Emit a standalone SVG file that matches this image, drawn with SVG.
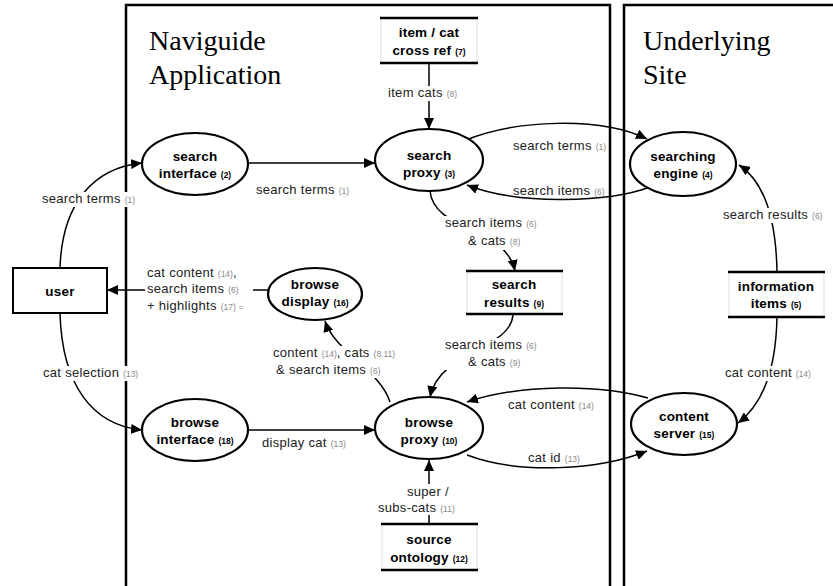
<svg xmlns="http://www.w3.org/2000/svg" width="833" height="586" viewBox="0 0 833 586">
<defs>
<marker id="ah" markerUnits="userSpaceOnUse" markerWidth="12" markerHeight="10" refX="11" refY="5" orient="auto"><path d="M0,0 L11,5 L0,10 Z" fill="#000"/></marker>
<style>
.panel{fill:none;stroke:#000;stroke-width:2.5}
.ell{fill:#fff;stroke:#000;stroke-width:2.2}
.store{fill:#fff;stroke:none}
.side{stroke:#ddd;stroke-width:1}
.bar{stroke:#000;stroke-width:2.5}
.nt{font-family:"Liberation Sans",Arial,sans-serif;font-weight:bold;font-size:13.5px;letter-spacing:0.2px;fill:#000;text-anchor:middle}
.nn{font-size:8.5px;letter-spacing:0}
.title{font-family:"Liberation Serif","Times New Roman",serif;font-size:28px;fill:#000}
.conn{fill:none;stroke:#000;stroke-width:1.5}
.lb{font-family:"Liberation Sans",Arial,sans-serif;font-size:13px;letter-spacing:0.3px;fill:#222}
.ln{font-size:8.5px;letter-spacing:0;fill:#888}
.bg{fill:#fff}
</style>
</defs>
<rect width="833" height="586" fill="#fff"/>
<g id="panels">
<path class="panel" d="M126,586 V5 H610 V586"/>
<path class="panel" d="M624,586 V5 H833"/>
<text class="title" x="149" y="50">Naviguide</text>
<text class="title" x="149" y="84">Application</text>
<text class="title" x="643" y="50">Underlying</text>
<text class="title" x="643" y="84">Site</text>
</g>
<g id="connectors">
<path class="conn" d="M60,268 C62,205 92,168 142,163" marker-end="url(#ah)"/>
<path class="conn" d="M60,313 C62,385 92,425 142,430" marker-end="url(#ah)"/>
<path class="conn" d="M248,163 L375,163" marker-end="url(#ah)"/>
<path class="conn" d="M429,63 L429,129" marker-end="url(#ah)"/>
<path class="conn" d="M466,140 C515,120 600,116 647,139" marker-end="url(#ah)"/>
<path class="conn" d="M650,187 C610,202 520,206 467,185" marker-end="url(#ah)"/>
<path class="conn" d="M430,191 C434,232 505,225 515,271" marker-end="url(#ah)"/>
<path class="conn" d="M513,315 C510,350 440,350 430,397" marker-end="url(#ah)"/>
<path class="conn" d="M390,402 C380,370 335,352 325,321" marker-end="url(#ah)"/>
<path class="conn" d="M268,290 L107,290" marker-end="url(#ah)"/>
<path class="conn" d="M248,430 L375,430" marker-end="url(#ah)"/>
<path class="conn" d="M429,524 L429,460" marker-end="url(#ah)"/>
<path class="conn" d="M648,398 C600,384 520,384 467,402" marker-end="url(#ah)"/>
<path class="conn" d="M467,455 C520,475 600,470 647,451" marker-end="url(#ah)"/>
<path class="conn" d="M777,272 C776,215 762,180 739,165" marker-end="url(#ah)"/>
<path class="conn" d="M777,317 C776,370 762,405 738,423" marker-end="url(#ah)"/>
</g>
<g id="labels">
<rect class="bg" x="40" y="192" width="102" height="15"/>
<text class="lb" x="42" y="203">search terms <tspan class="ln">(1)</tspan></text>
<rect class="bg" x="41" y="366" width="106" height="15"/>
<text class="lb" x="43" y="377">cat selection <tspan class="ln">(13)</tspan></text>
<text class="lb" x="256" y="194">search terms <tspan class="ln">(1)</tspan></text>
<rect class="bg" x="386" y="86" width="60" height="15"/>
<text class="lb" x="388" y="97">item cats <tspan class="ln">(8)</tspan></text>
<text class="lb" x="513" y="150">search terms <tspan class="ln">(1)</tspan></text>
<text class="lb" x="513" y="195">search items <tspan class="ln">(6)</tspan></text>
<rect class="bg" x="443" y="216" width="106" height="34"/>
<text class="lb" x="445" y="227">search items <tspan class="ln">(6)</tspan></text>
<text class="lb" x="468" y="245">&amp; cats <tspan class="ln">(8)</tspan></text>
<rect class="bg" x="443" y="338" width="106" height="32"/>
<text class="lb" x="445" y="349">search items <tspan class="ln">(6)</tspan></text>
<text class="lb" x="468" y="366">&amp; cats <tspan class="ln">(9)</tspan></text>
<rect class="bg" x="271" y="346" width="142" height="32"/>
<text class="lb" x="273" y="357">content <tspan class="ln">(14)</tspan>, cats <tspan class="ln">(8,11)</tspan></text>
<text class="lb" x="276" y="374">&amp; search items <tspan class="ln">(6)</tspan></text>
<rect class="bg" x="145" y="265" width="108" height="49"/>
<text class="lb" x="147" y="277">cat content <tspan class="ln">(14)</tspan>,</text>
<text class="lb" x="147" y="293">search items <tspan class="ln">(6)</tspan></text>
<text class="lb" x="147" y="310">+ highlights <tspan class="ln">(17) =</tspan></text>
<text class="lb" x="262" y="447">display cat <tspan class="ln">(13)</tspan></text>
<rect class="bg" x="376" y="484" width="108" height="31"/>
<text class="lb" x="407" y="496">super /</text>
<text class="lb" x="378" y="512">subs-cats <tspan class="ln">(11)</tspan></text>
<text class="lb" x="508" y="409">cat content <tspan class="ln">(14)</tspan></text>
<text class="lb" x="528" y="462">cat id <tspan class="ln">(13)</tspan></text>
<rect class="bg" x="721" y="208" width="112" height="15"/>
<text class="lb" x="723" y="219">search results <tspan class="ln">(6)</tspan></text>
<rect class="bg" x="723" y="366" width="102" height="15"/>
<text class="lb" x="725" y="377">cat content <tspan class="ln">(14)</tspan></text>
</g>
<g id="user">
<rect x="13" y="268" width="94" height="45" fill="#fff" stroke="#000" stroke-width="2"/>
<text class="nt" x="60" y="296">user</text>
</g>
<g id="search-interface">
<ellipse class="ell" cx="195" cy="164" rx="53" ry="31"/>
<text class="nt" x="195" y="161">search</text>
<text class="nt" x="195" y="178">interface <tspan class="nn">(2)</tspan></text>
</g>
<g id="search-proxy">
<ellipse class="ell" cx="429" cy="160" rx="54" ry="31"/>
<text class="nt" x="429" y="160">search</text>
<text class="nt" x="429" y="177">proxy <tspan class="nn">(3)</tspan></text>
</g>
<g id="item-cat-cross-ref">
<rect class="store" x="381" y="18" width="96" height="45"/>
<line class="side" x1="381" y1="18" x2="381" y2="63"/><line class="side" x1="477" y1="18" x2="477" y2="63"/>
<line class="bar" x1="380" y1="18" x2="478" y2="18"/><line class="bar" x1="380" y1="63" x2="478" y2="63"/>
<text class="nt" x="429" y="37">item / cat</text>
<text class="nt" x="429" y="55">cross ref <tspan class="nn">(7)</tspan></text>
</g>
<g id="searching-engine">
<ellipse class="ell" cx="683" cy="164" rx="53" ry="32"/>
<text class="nt" x="683" y="161">searching</text>
<text class="nt" x="683" y="178">engine <tspan class="nn">(4)</tspan></text>
</g>
<g id="search-results">
<rect class="store" x="467" y="271" width="95" height="43"/>
<line class="side" x1="467" y1="271" x2="467" y2="314"/><line class="side" x1="562" y1="271" x2="562" y2="314"/>
<line class="bar" x1="466" y1="271" x2="563" y2="271"/><line class="bar" x1="466" y1="314" x2="563" y2="314"/>
<text class="nt" x="514" y="289">search</text>
<text class="nt" x="514" y="307">results <tspan class="nn">(9)</tspan></text>
</g>
<g id="information-items">
<rect class="store" x="729" y="272" width="95" height="45"/>
<line class="side" x1="729" y1="272" x2="729" y2="317"/><line class="side" x1="824" y1="272" x2="824" y2="317"/>
<line class="bar" x1="728" y1="272" x2="825" y2="272"/><line class="bar" x1="728" y1="317" x2="825" y2="317"/>
<text class="nt" x="776" y="291">information</text>
<text class="nt" x="776" y="308">items <tspan class="nn">(5)</tspan></text>
</g>
<g id="browse-display">
<ellipse class="ell" cx="315" cy="294" rx="47" ry="26"/>
<text class="nt" x="315" y="289">browse</text>
<text class="nt" x="315" y="306">display <tspan class="nn">(16)</tspan></text>
</g>
<g id="browse-interface">
<ellipse class="ell" cx="195" cy="430" rx="53" ry="31"/>
<text class="nt" x="195" y="427">browse</text>
<text class="nt" x="195" y="444">interface <tspan class="nn">(18)</tspan></text>
</g>
<g id="browse-proxy">
<ellipse class="ell" cx="429" cy="428" rx="54" ry="31"/>
<text class="nt" x="429" y="427">browse</text>
<text class="nt" x="429" y="444">proxy <tspan class="nn">(10)</tspan></text>
</g>
<g id="content-server">
<ellipse class="ell" cx="684" cy="424" rx="53" ry="31"/>
<text class="nt" x="684" y="421">content</text>
<text class="nt" x="684" y="438">server <tspan class="nn">(15)</tspan></text>
</g>
<g id="source-ontology">
<rect class="store" x="382" y="524" width="95" height="46"/>
<line class="side" x1="382" y1="524" x2="382" y2="570"/><line class="side" x1="477" y1="524" x2="477" y2="570"/>
<line class="bar" x1="381" y1="524" x2="478" y2="524"/><line class="bar" x1="381" y1="570" x2="478" y2="570"/>
<text class="nt" x="429" y="544">source</text>
<text class="nt" x="429" y="562">ontology <tspan class="nn">(12)</tspan></text>
</g>
</svg>
